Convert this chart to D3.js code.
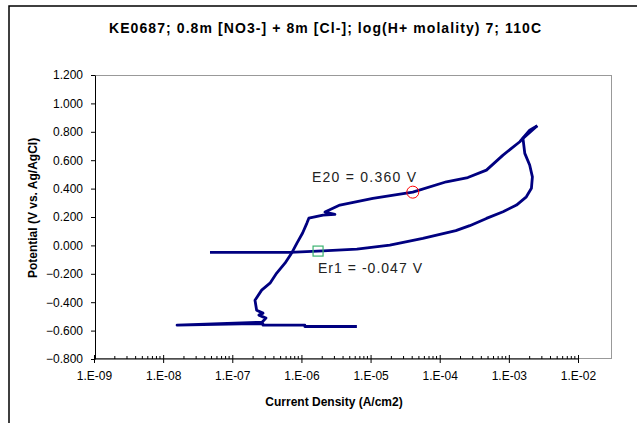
<!DOCTYPE html>
<html>
<head>
<meta charset="utf-8">
<script src="https://cdn.jsdelivr.net/npm/d3@7"></script>
<style>
  body { margin: 0; background: #fff; }
  text { font-family: "Liberation Sans", Arial, sans-serif; }
</style>
</head>
<body>
<div id="chart"></div>
<script>
// Forward (anodic) scan: current density (A/cm2) and potential (V vs Ag/AgCl)
const fwdCurrent = [6.34e-6, 1.12e-6, 1.12e-6, 2.78e-7, 2.78e-7, 1.38e-7, 1.59e-8, 2.69e-7,
    3.07e-7, 2.43e-7, 2.78e-7, 2.25e-7, 2.13e-7, 2.66e-7, 3.51e-7, 4.39e-7, 5.78e-7, 7.22e-7,
    8.61e-7, 1.04e-6, 1.20e-6, 1.28e-6, 2.05e-6, 3.05e-6, 2.19e-6, 3.60e-6, 1.08e-5, 4.08e-5,
    1.25e-4, 2.55e-4, 4.74e-4, 8.24e-4, 1.44e-3, 2.00e-3, 2.58e-3];
const fwdPotential = [-0.571, -0.571, -0.562, -0.562, -0.553, -0.553, -0.562, -0.541,
    -0.512, -0.491, -0.477, -0.456, -0.386, -0.315, -0.266, -0.195, -0.125, -0.054,
    0.016, 0.087, 0.157, 0.192, 0.213, 0.218, 0.235, 0.284, 0.331, 0.375,
    0.448, 0.478, 0.530, 0.636, 0.730, 0.812, 0.843];

// Reverse scan
const revCurrent = [2.58e-3, 1.60e-3, 1.70e-3, 2.00e-3, 2.19e-3, 2.12e-3, 1.79e-3, 1.29e-3,
    8.24e-4, 4.74e-4, 2.72e-4, 1.71e-4, 5.70e-5, 1.90e-5, 6.34e-6, 2.05e-6, 6.82e-7, 4.76e-8];
const revPotential = [0.843, 0.754, 0.648, 0.566, 0.483, 0.402, 0.342, 0.284,
    0.237, 0.190, 0.139, 0.104, 0.049, 0.002, -0.026, -0.038, -0.049, -0.049];

// Marked points
const e20 = { current: 4.08e-5, potential: 0.375, label: "E20 = 0.360 V" };
const er1 = { current: 1.74e-6, potential: -0.040, label: "Er1 = -0.047 V" };

const xTickValues = [1e-9, 1e-8, 1e-7, 1e-6, 1e-5, 1e-4, 1e-3, 1e-2];
const xTickLabels = ["1.E-09", "1.E-08", "1.E-07", "1.E-06", "1.E-05", "1.E-04", "1.E-03", "1.E-02"];
const yTickValues = [-0.8, -0.6, -0.4, -0.2, 0, 0.2, 0.4, 0.6, 0.8, 1.0, 1.2];

const title = "KE0687; 0.8m [NO3-] + 8m [Cl-]; log(H+ molality) 7; 110C";

const width = 637, height = 423;
const margin = { top: 75, left: 94, bottom: 359, right: 578 };

const svg = d3.select("#chart").append("svg")
    .attr("width", width)
    .attr("height", height);

// chart border
svg.append("rect")
    .attr("x", 9).attr("y", 6)
    .attr("width", 640).attr("height", 430)
    .attr("fill", "none")
    .attr("stroke", "#000")
    .attr("stroke-width", 1.5);

// plot area border
svg.append("rect")
    .attr("x", 95.5).attr("y", 75.5)
    .attr("width", 516).attr("height", 283)
    .attr("fill", "none")
    .attr("stroke", "#999")
    .attr("stroke-width", 1);

const x = d3.scaleLog()
    .domain([1e-9, 1e-2])
    .range([margin.left, margin.right]);

const y = d3.scaleLinear()
    .domain([-0.8, 1.2])
    .range([margin.bottom, margin.top]);

// x axis, major ticks crossing the line
const xAxis = svg.append("g")
    .attr("transform", `translate(0,${margin.bottom})`)
    .call(d3.axisBottom(x)
        .tickValues(xTickValues)
        .tickSize(4)
        .tickPadding(8)
        .tickFormat((d, i) => xTickLabels[i]));
xAxis.select(".domain").attr("stroke", "#000").attr("d", `M${margin.left},0H${margin.right}`);
xAxis.selectAll(".tick line").attr("y1", -4).attr("stroke", "#000");
xAxis.selectAll("text")
    .style("font-size", "12px")
    .attr("fill", "#000");

// minor ticks
const minor = [];
for (let e = -9; e < -2; e++) {
    for (let k = 2; k <= 9; k++) minor.push(k * Math.pow(10, e));
}
svg.append("g")
    .selectAll("line")
    .data(minor)
    .enter().append("line")
    .attr("x1", d => x(d)).attr("x2", d => x(d))
    .attr("y1", margin.bottom).attr("y2", margin.bottom - 3)
    .attr("stroke", "#000");

// y axis
const yAxis = svg.append("g")
    .attr("transform", `translate(${margin.left + 1},0)`)
    .call(d3.axisLeft(y)
        .tickValues(yTickValues)
        .tickSize(4)
        .tickPadding(8)
        .tickSizeOuter(0)
        .tickFormat(d3.format(".3f")));
yAxis.select(".domain").attr("stroke", "#000");
yAxis.selectAll(".tick line").attr("stroke", "#000");
yAxis.selectAll("text")
    .style("font-size", "12px")
    .attr("fill", "#000");

// curve
const line = d3.line()
    .x(d => x(d[0]))
    .y(d => y(d[1]));

const curves = [
    d3.zip(fwdCurrent, fwdPotential),
    d3.zip(revCurrent, revPotential)
];

svg.append("g")
    .selectAll("path")
    .data(curves)
    .enter().append("path")
    .attr("d", line)
    .attr("fill", "none")
    .attr("stroke", "#000080")
    .attr("stroke-width", 2.8)
    .attr("stroke-linejoin", "round");

// markers
svg.append("circle")
    .attr("cx", x(e20.current))
    .attr("cy", y(e20.potential))
    .attr("r", 6)
    .attr("fill", "none")
    .attr("stroke", "#ff0000")
    .attr("stroke-width", 1);

svg.append("rect")
    .attr("x", x(er1.current) - 5)
    .attr("y", y(er1.potential) - 5)
    .attr("width", 10).attr("height", 10)
    .attr("fill", "none")
    .attr("stroke", "#3cb371")
    .attr("stroke-width", 1.2);

// annotations
svg.append("text")
    .attr("x", 312)
    .attr("y", 182)
    .attr("textLength", 104)
    .attr("lengthAdjust", "spacing")
    .style("font-size", "14px")
    .attr("fill", "#222")
    .text(e20.label);

svg.append("text")
    .attr("x", 318)
    .attr("y", 273)
    .attr("textLength", 104)
    .attr("lengthAdjust", "spacing")
    .style("font-size", "14px")
    .attr("fill", "#222")
    .text(er1.label);

// title
svg.append("text")
    .attr("x", 109)
    .attr("y", 33)
    .attr("textLength", 432)
    .attr("lengthAdjust", "spacing")
    .style("font-size", "14px")
    .style("font-weight", "bold")
    .text(title);

// axis titles
svg.append("text")
    .attr("x", 334)
    .attr("y", 406)
    .attr("text-anchor", "middle")
    .style("font-size", "12px")
    .style("font-weight", "bold")
    .text("Current Density (A/cm2)");

svg.append("text")
    .attr("transform", "rotate(-90)")
    .attr("x", -208)
    .attr("y", 37)
    .attr("text-anchor", "middle")
    .style("font-size", "12px")
    .style("font-weight", "bold")
    .text("Potential (V vs. Ag/AgCl)");
</script>
</body>
</html>
